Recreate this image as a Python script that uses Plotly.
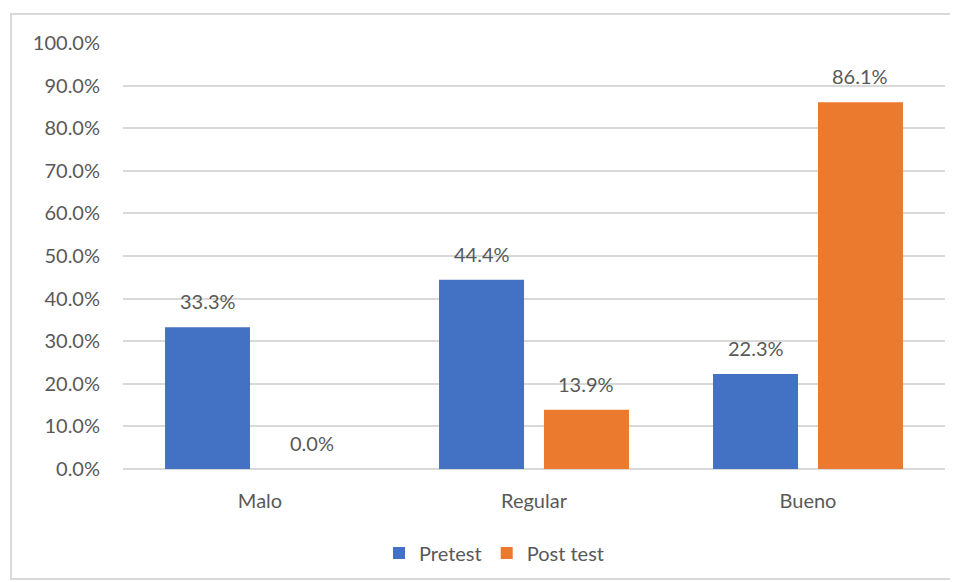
import plotly.graph_objects as go

categories = ["Malo", "Regular", "Bueno"]
pretest = [33.3, 44.4, 22.3]
posttest = [0.0, 13.9, 86.1]
y_ticks = [0, 10, 20, 30, 40, 50, 60, 70, 80, 90, 100]
y_tick_labels = [f"{v:.1f}%" for v in y_ticks]

FONT = "Lato, Carlito, Calibri, sans-serif"
TXT = "#595959"
FS = 20

fig = go.Figure()
fig.add_trace(go.Bar(
    name="Pretest", x=categories, y=pretest,
    marker=dict(color="#4371C4", line=dict(width=0)),
))
fig.add_trace(go.Bar(
    name="Post test", x=categories, y=posttest,
    marker=dict(color="#EC7A2E", line=dict(width=0)),
))

# page is offset by the 8px body margin
W, H = 958, 582
L, R, T, B = 115, 21, 35, 121
pw, ph = W - L - R, H - T - B
bargap = 0.234
slot = pw / len(categories) * (1 - bargap) / 2

def px(x):
    return (x - L) / pw

def py(y):
    return (H - B - y) / ph

for vals, sign in ((pretest, -1), (posttest, 1)):
    for c, v in zip(categories, vals):
        fig.add_annotation(x=c, y=v, xref="x", yref="y", text=f"{v:.1f}%",
                           showarrow=False, yanchor="bottom", yshift=12,
                           xshift=sign * slot / 2,
                           font=dict(family=FONT, size=FS, color=TXT))

fig.add_shape(type="rect", xref="paper", yref="paper",
              x0=px(3), x1=px(947), y0=py(6), y1=py(571),
              line=dict(color="#D9D9D9", width=2), fillcolor="rgba(0,0,0,0)", layer="below")

fig.update_layout(
    width=W, height=H,
    margin=dict(l=L, r=R, t=T, b=B),
    paper_bgcolor="white", plot_bgcolor="white",
    barmode="group", bargap=bargap, bargroupgap=0.19,
    font=dict(family=FONT, size=FS, color=TXT),
    showlegend=True,
    legend=dict(orientation="h", x=px(486), xanchor="center", y=py(545), yanchor="middle",
                font=dict(family=FONT, size=FS, color=TXT), itemwidth=30, traceorder="normal"),
)
fig.update_yaxes(range=[0, 100], tickvals=y_ticks, ticktext=y_tick_labels,
                 showgrid=True, gridcolor="#D9D9D9", gridwidth=1.5,
                 zeroline=True, zerolinecolor="#D9D9D9", zerolinewidth=1.5,
                 showline=False, ticks="", ticklabelstandoff=22,
                 tickfont=dict(family=FONT, size=FS, color=TXT))
fig.update_xaxes(showgrid=False, showline=False, ticks="", ticklabelstandoff=18,
                 tickfont=dict(family=FONT, size=FS, color=TXT))

fig.write_html("out.html")
